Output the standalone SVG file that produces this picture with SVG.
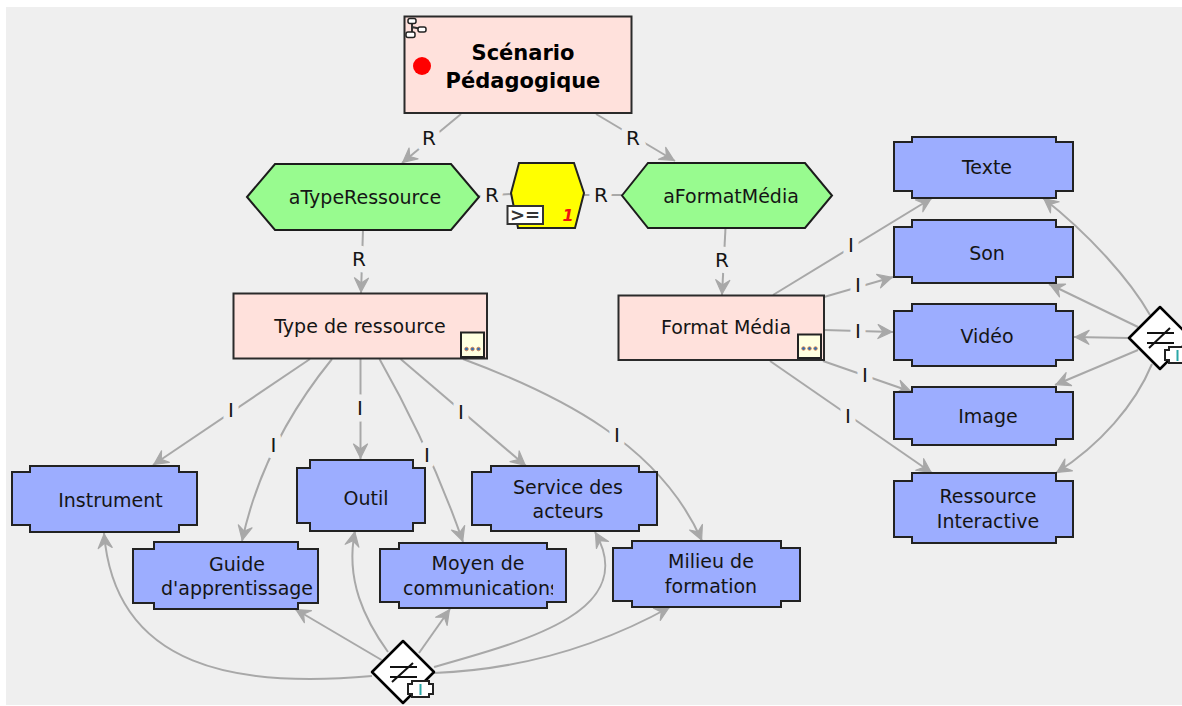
<svg xmlns="http://www.w3.org/2000/svg" width="1182" height="706" viewBox="0 0 1182 706">
<style>
text{font-family:"DejaVu Sans","Liberation Sans",sans-serif;font-size:19px;fill:#151515;text-anchor:middle}
.t{font-weight:bold;font-size:21px;fill:#000}
.n{fill:#9cadff;stroke:#222;stroke-width:2}
.p{fill:#ffe1dc;stroke:#2a2a2a;stroke-width:2}
.h{fill:#98fb8f;stroke:#1c1c1c;stroke-width:2}
.c{fill:none;stroke:#a8a8a8;stroke-width:2}
.a{marker-end:url(#ah)}
.l{font-size:20px;paint-order:stroke;stroke:#efefef;stroke-width:13px;stroke-linejoin:round}
.m{fill:#ffffe0;stroke:#222;stroke-width:2}
.d{fill:#fff;stroke:#000;stroke-width:2.5;stroke-linejoin:round}
.ne{fill:none;stroke:#111;stroke-width:2}
.bd{fill:#fff;stroke:#222;stroke-width:2}
.ti{stroke:#2aa7a7;stroke-width:2}
.dot{fill:#2f6fb5;stroke:#d9804a;stroke-width:.8}
</style>
<defs>
<marker id="ah" markerUnits="userSpaceOnUse" markerWidth="20" markerHeight="20" refX="17" refY="10" orient="auto">
<path d="M2,3 L16,10 L2,17 L7,10z" fill="#a8a8a8" stroke="#a8a8a8" stroke-width="1.200" stroke-linejoin="round"/>
</marker>
<clipPath id="cl"><rect x="395" y="575" width="158" height="30"/></clipPath>
</defs>
<rect width="1182" height="706" fill="#fff"/>
<rect x="6" y="7" width="1176" height="698" fill="#efefef"/>
<g id="connectors">
<path class="c a" d="M461,114L402,163"/>
<path class="c a" d="M596,114L675,161"/>
<path class="c" d="M479,196L511,194"/>
<path class="c" d="M584,195L622,195"/>
<path class="c a" d="M363,230L361,293"/>
<path class="c a" d="M725.5,228L722,295"/>
<path class="c a" d="M310,359L153,465"/>
<path class="c a" d="M332,359Q263,444 242,541"/>
<path class="c a" d="M360.5,359L360.5,459"/>
<path class="c a" d="M379.5,359Q431,450 463,542"/>
<path class="c a" d="M400.6,359L526,466"/>
<path class="c a" d="M463,359C560,395 660,445 702,541"/>
<path class="c a" d="M372,676C240,688 115,670 104,533"/>
<path class="c a" d="M381.6,660L295,609"/>
<path class="c a" d="M388,652C365,620 345,580 355,531"/>
<path class="c a" d="M419,653L450,609"/>
<path class="c a" d="M434,667C530,640 640,610 595,532"/>
<path class="c a" d="M434,673Q560,668 670,607"/>
<path class="c a" d="M773,295L932,198"/>
<path class="c a" d="M824,297L893,277"/>
<path class="c a" d="M824,330L893,332"/>
<path class="c a" d="M823,361L912,392"/>
<path class="c a" d="M770,361L932,473"/>
<path class="c a" d="M1150,315C1130,280 1090,235 1043,198"/>
<path class="c a" d="M1138,327L1049,284"/>
<path class="c a" d="M1129,338L1074,337"/>
<path class="c a" d="M1138,350L1055,385"/>
<path class="c a" d="M1152,364C1135,405 1100,445 1056,473"/>
<text class="l" x="429" y="145">R</text>
<text class="l" x="633" y="145">R</text>
<text class="l" x="492" y="202">R</text>
<text class="l" x="601" y="202">R</text>
<text class="l" x="359" y="266">R</text>
<text class="l" x="722" y="267">R</text>
<text class="l" x="231" y="417">I</text>
<text class="l" x="273.500" y="452">I</text>
<text class="l" x="360" y="415">I</text>
<text class="l" x="427" y="462">I</text>
<text class="l" x="461" y="419">I</text>
<text class="l" x="617" y="442">I</text>
<text class="l" x="851" y="252">I</text>
<text class="l" x="858" y="292">I</text>
<text class="l" x="858" y="338">I</text>
<text class="l" x="865" y="382">I</text>
<text class="l" x="848" y="423">I</text>
</g>
<g id="scenario">
<rect class="p" x="404.500" y="16.500" width="227" height="96.500"/>
<circle cx="422" cy="66" r="9" fill="#ff0000"/>
<path d="M412,22V34M412,27L421,29" fill="none" stroke="#333" stroke-width="2"/>
<rect x="408" y="18.500" width="8" height="5" rx="2" fill="#fff" stroke="#222" stroke-width="1.500"/>
<rect x="418" y="27" width="8" height="5" rx="2" fill="#fff" stroke="#222" stroke-width="1.500"/>
<rect x="406" y="32" width="9" height="5.500" rx="2" fill="#fff" stroke="#222" stroke-width="1.500"/>
<text class="t" x="523" y="60">Scénario</text>
<text class="t" x="523" y="88">Pédagogique</text>
</g>
<g id="aTypeRessource">
<path class="h" d="M247,197L275,164H451L479,197L451,230H275z"/>
<text x="365" y="204">aTypeRessource</text>
</g>
<g id="aFormatMedia">
<path class="h" d="M622,195.500L648,163H805L832,195.500L805,228H648z"/>
<text x="731" y="203">aFormatMédia</text>
</g>
<g id="cardinality">
<path d="M519,163H574L584,193L575,228H518L511,193z" fill="#ffff00" stroke="#222" stroke-width="2"/>
<rect x="507.500" y="206" width="35.500" height="18" fill="#fff" stroke="#333" stroke-width="2"/>
<text x="525" y="221" style="font-weight:bold;font-size:18px;fill:#333">&gt;=</text>
<text x="568" y="221" style="font-weight:bold;font-style:italic;font-size:16px;fill:#f01010">1</text>
</g>
<g id="typeRessource">
<rect class="p" x="233.500" y="293.500" width="253.500" height="65"/>
<text x="360" y="333">Type de ressource</text>
<rect class="m" x="461" y="332.500" width="23" height="24.500"/>
<circle class="dot" cx="466.500" cy="349" r="1.800"/><circle class="dot" cx="472.500" cy="349" r="1.800"/><circle class="dot" cx="478.500" cy="349" r="1.800"/>
</g>
<g id="formatMedia">
<rect class="p" x="618.500" y="295.500" width="205.500" height="64.500"/>
<text x="726" y="334">Format Média</text>
<rect class="m" x="798" y="334.500" width="23" height="23.500"/>
<circle class="dot" cx="803.500" cy="348.500" r="1.800"/><circle class="dot" cx="809.500" cy="348.500" r="1.800"/><circle class="dot" cx="815.500" cy="348.500" r="1.800"/>
</g>
<g id="instrument">
<path class="n" d="M12,472H30V466H179V472H197V525H179V532H30V525H12z"/>
<text x="110.500" y="507">Instrument</text>
</g>
<g id="guide">
<path class="n" d="M133,549H154V542H298V549H318V603H298V609H154V603H133z"/>
<text x="237" y="571">Guide</text>
<text x="237" y="595">d'apprentissage</text>
</g>
<g id="outil">
<path class="n" d="M297,468H310V460H413V468H425V523H413V531H310V523H297z"/>
<text x="366" y="505">Outil</text>
</g>
<g id="service">
<path class="n" d="M472,472H491V466H639V472H657V525H639V531H491V525H472z"/>
<text x="568" y="494">Service des</text>
<text x="568" y="518">acteurs</text>
</g>
<g id="moyen">
<path class="n" d="M380,549H399V543H547V549H566V602H547V608H399V602H380z"/>
<text x="478" y="570">Moyen de</text>
<text x="403" y="595" clip-path="url(#cl)" style="text-anchor:start">communications</text>
</g>
<g id="milieu">
<path class="n" d="M613,548H632V541H781V548H800V601H781V607H632V601H613z"/>
<text x="711" y="568">Milieu de</text>
<text x="711" y="593">formation</text>
</g>
<g id="texte">
<path class="n" d="M894,142H912V137H1056V142H1073V191H1056V198H912V191H894z"/>
<text x="987" y="174">Texte</text>
</g>
<g id="son">
<path class="n" d="M894,227H912V220H1056V227H1073V277H1056V283H912V277H894z"/>
<text x="987" y="260">Son</text>
</g>
<g id="video">
<path class="n" d="M894,311H912V304H1056V311H1073V360H1056V366H912V360H894z"/>
<text x="987" y="343">Vidéo</text>
</g>
<g id="image">
<path class="n" d="M894,392H912V387H1056V392H1073V439H1056V445H912V439H894z"/>
<text x="988" y="423">Image</text>
</g>
<g id="ressource">
<path class="n" d="M894,481H912V473H1056V481H1073V537H1056V543H912V537H894z"/>
<text x="988" y="503">Ressource</text>
<text x="988" y="528">Interactive</text>
</g>
<g id="disjoint1">
<path class="d" d="M403,641L434,672L403,703L372,672z"/>
<path class="ne" d="M390,667H417M390,677H417M392,682L413,663"/>
<path class="bd" d="M412,681H429V684H433V694H429V697H412V694H408V684H412z"/>
<path class="ti" d="M420.500,684V695"/>
</g>
<g id="disjoint2">
<path class="d" d="M1160,307L1191,338L1160,369L1129,338z"/>
<path class="ne" d="M1147,333H1174M1147,343H1174M1149,348L1170,328"/>
<path class="bd" d="M1169,347H1186V350H1190V360H1186V363H1169V360H1165V350H1169z"/>
<path class="ti" d="M1177.500,350V361"/>
</g>
</svg>
